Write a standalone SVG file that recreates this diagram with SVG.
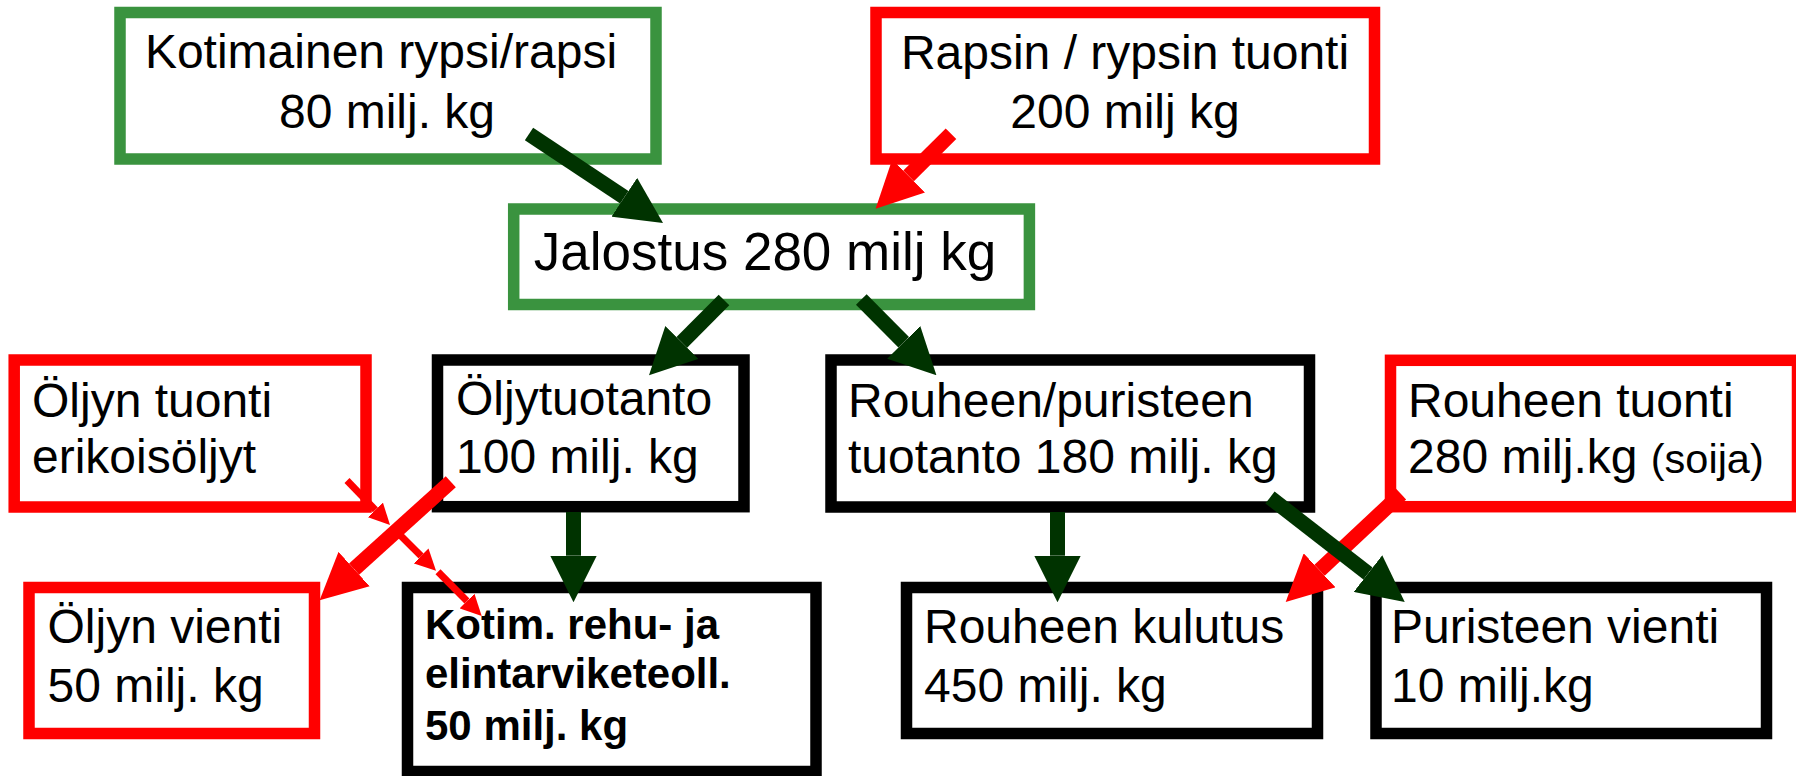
<svg xmlns="http://www.w3.org/2000/svg" width="1796" height="776" viewBox="0 0 1796 776">
  <style>
    .box { fill: #ffffff; stroke-width: 11.5; }
    .g { stroke: #3a933f; }
    .r { stroke: #ff0000; }
    .k { stroke: #000000; }
    text { font-family: "Liberation Sans", Arial, sans-serif; font-size: 48px; fill: #000000; }
    .big { font-size: 53px; }
    .bold { font-size: 42px; font-weight: bold; }
    .small { font-size: 41.5px; }
    .mid { text-anchor: middle; }
    .flow { fill: none; stroke-linecap: butt; }
    .fg { stroke: #003300; stroke-width: 15; marker-end: url(#head-green); }
    .fr { stroke: #ff0000; stroke-width: 15; marker-end: url(#head-red); }
    .fr-thin { stroke: #ff0000; stroke-width: 7; marker-end: url(#head-red-thin); }
  </style>
  <defs>
    <marker id="head-green" viewBox="0 0 10 10" refX="0" refY="5" markerWidth="3.1" markerHeight="3.1" orient="auto" markerUnits="strokeWidth">
      <path d="M0,0 L10,5 L0,10 z" fill="#003300"/>
    </marker>
    <marker id="head-red" viewBox="0 0 10 10" refX="0" refY="5" markerWidth="3.1" markerHeight="3.1" orient="auto" markerUnits="strokeWidth">
      <path d="M0,0 L10,5 L0,10 z" fill="#ff0000"/>
    </marker>
    <marker id="head-red-thin" viewBox="0 0 10 10" refX="0" refY="5" markerWidth="3" markerHeight="3" orient="auto" markerUnits="strokeWidth">
      <path d="M0,0 L10,5 L0,10 z" fill="#ff0000"/>
    </marker>
  </defs>

  <rect width="1796" height="776" fill="#ffffff"/>

  <g id="kotimainen">
    <rect class="box g" x="120" y="12.5" width="536" height="146.5"/>
    <text class="mid" x="381" y="68">Kotimainen rypsi/rapsi</text>
    <text class="mid" x="387" y="128">80 milj. kg</text>
  </g>

  <g id="rapsin-tuonti">
    <rect class="box r" x="876" y="12.5" width="498.5" height="146.5"/>
    <text class="mid" x="1125" y="68.5">Rapsin / rypsin tuonti</text>
    <text class="mid" x="1125" y="128">200 milj kg</text>
  </g>

  <g id="jalostus">
    <rect class="box g" x="513.7" y="209" width="515.7" height="95.5"/>
    <text class="big mid" x="765" y="270">Jalostus 280 milj kg</text>
  </g>

  <g id="oljyn-tuonti">
    <rect class="box r" x="14.2" y="360" width="351.8" height="147"/>
    <text x="32" y="416.7">Öljyn tuonti</text>
    <text x="32" y="473.3">erikoisöljyt</text>
  </g>

  <g id="oljytuotanto">
    <rect class="box k" x="437.5" y="360" width="306.5" height="146.7"/>
    <text x="456" y="415">Öljytuotanto</text>
    <text x="456" y="473.3">100 milj. kg</text>
  </g>

  <g id="rouheen-puristeen-tuotanto">
    <rect class="box k" x="831" y="360" width="478.5" height="147"/>
    <text x="848" y="416.7">Rouheen/puristeen</text>
    <text x="848" y="473.3">tuotanto 180 milj. kg</text>
  </g>

  <g id="rouheen-tuonti">
    <rect class="box r" x="1390.5" y="360.3" width="407" height="146.4"/>
    <text x="1408" y="416.7">Rouheen tuonti</text>
    <text x="1408" y="472.7">280 milj.kg <tspan class="small">(soija)</tspan></text>
  </g>

  <g id="oljyn-vienti">
    <rect class="box r" x="29" y="587.5" width="285.5" height="146"/>
    <text x="47.5" y="643.3">Öljyn vienti</text>
    <text x="47.5" y="701.7">50 milj. kg</text>
  </g>

  <g id="kotim-teollisuus">
    <rect class="box k" x="407.5" y="587.5" width="408.5" height="184"/>
    <text class="bold" x="425" y="639">Kotim. rehu- ja</text>
    <text class="bold" x="425" y="688.3">elintarviketeoll.</text>
    <text class="bold" x="425" y="740">50 milj. kg</text>
  </g>

  <g id="rouheen-kulutus">
    <rect class="box k" x="906.5" y="587.5" width="411" height="146"/>
    <text x="924" y="643.3">Rouheen kulutus</text>
    <text x="924" y="701.7">450 milj. kg</text>
  </g>

  <g id="puristeen-vienti">
    <rect class="box k" x="1376" y="587.5" width="390.5" height="146"/>
    <text x="1391" y="643.3">Puristeen vienti</text>
    <text x="1391" y="701.7">10 milj.kg</text>
  </g>

  <!-- flows: each line stops at the head base, the marker draws the head forward -->
  <g id="connectors" class="flow">
    <line class="fg" x1="529" y1="134" x2="624.3" y2="197.3"/>
    <line class="fr" x1="951" y1="133.8" x2="908.6" y2="175.9"/>
    <line class="fg" x1="724" y1="300" x2="681.8" y2="342.4"/>
    <line class="fg" x1="861.3" y1="299.5" x2="903.7" y2="342.3"/>
    <line class="fg" x1="573.5" y1="512" x2="573.5" y2="555.7"/>
    <line class="fr" x1="450.8" y1="481.7" x2="354.1" y2="569.1"/>
    <line class="fr-thin" x1="347" y1="480.5" x2="375.4" y2="509.9"/>
    <line class="fr-thin" x1="400" y1="535" x2="421.1" y2="555.9"/>
    <line class="fr-thin" x1="438" y1="571.7" x2="466.95" y2="601.05"/>
    <line class="fg" x1="1057.5" y1="512" x2="1057.5" y2="555.7"/>
    <line class="fr" x1="1401" y1="494" x2="1319.6" y2="570.3"/>
    <line class="fg" x1="1270" y1="497.5" x2="1368" y2="573.5"/>
  </g>
</svg>
